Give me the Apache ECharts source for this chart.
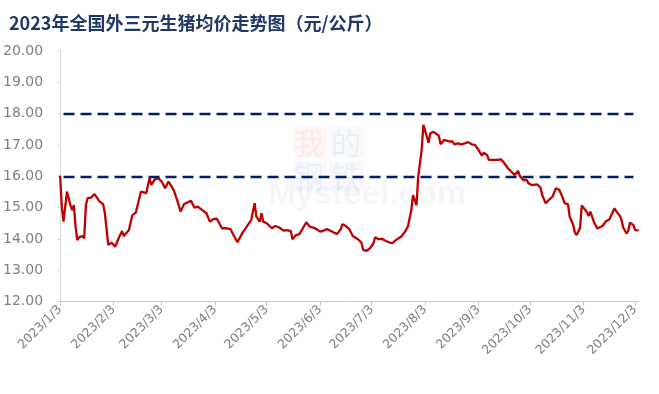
<!DOCTYPE html>
<html>
<head>
<meta charset="utf-8">
<script src="https://cdn.jsdelivr.net/npm/echarts@6/dist/echarts.min.js"></script>
<style>
html,body{margin:0;padding:0;background:#fff;}
#chart{width:659px;height:394px;}
</style>
</head>
<body>
<div id="chart"></div>
<script>
// ---- data ----
const titleText = '2023年全国外三元生猪均价走势图（元/公斤）';
const axisStart = '2023/1/3';
const axisEnd = '2023/12/5';
const refLevels = [18, 16];
const refStart = '2023/1/5';
const refEnd = '2023/12/2';
const yTicks = [12, 13, 14, 15, 16, 17, 18, 19, 20];

const priceDates = [
 '2023/1/3','2023/1/4','2023/1/5','2023/1/7','2023/1/9','2023/1/10','2023/1/11','2023/1/12','2023/1/13','2023/1/14',
 '2023/1/15','2023/1/16','2023/1/17','2023/1/18','2023/1/19','2023/1/21','2023/1/23','2023/1/24','2023/1/26','2023/1/28',
 '2023/1/29','2023/1/31','2023/2/1','2023/2/2','2023/2/4','2023/2/6','2023/2/8','2023/2/9','2023/2/10','2023/2/12',
 '2023/2/14','2023/2/16','2023/2/17','2023/2/19','2023/2/20','2023/2/22','2023/2/24','2023/2/25','2023/2/27','2023/3/1',
 '2023/3/3','2023/3/5','2023/3/7','2023/3/10','2023/3/12','2023/3/14','2023/3/16','2023/3/18','2023/3/20','2023/3/22',
 '2023/3/24','2023/3/27','2023/3/29','2023/3/31','2023/4/2','2023/4/4','2023/4/7','2023/4/9','2023/4/12','2023/4/14',
 '2023/4/16','2023/4/17','2023/4/19','2023/4/22','2023/4/24','2023/4/26','2023/4/27','2023/4/29','2023/4/30','2023/5/1',
 '2023/5/3','2023/5/4','2023/5/6','2023/5/8','2023/5/10','2023/5/11','2023/5/13','2023/5/15','2023/5/17','2023/5/18',
 '2023/5/20','2023/5/22','2023/5/24','2023/5/26','2023/5/28','2023/5/30','2023/6/1','2023/6/3','2023/6/5','2023/6/7',
 '2023/6/9','2023/6/11','2023/6/13','2023/6/15','2023/6/16','2023/6/18','2023/6/20','2023/6/22','2023/6/25','2023/6/27',
 '2023/6/28','2023/6/30','2023/7/2','2023/7/4','2023/7/5','2023/7/7','2023/7/9','2023/7/11','2023/7/13','2023/7/15',
 '2023/7/17','2023/7/18','2023/7/20','2023/7/22','2023/7/24','2023/7/26','2023/7/27','2023/7/29','2023/7/30','2023/7/31',
 '2023/8/1','2023/8/2','2023/8/4','2023/8/5','2023/8/6','2023/8/8','2023/8/9','2023/8/11','2023/8/12','2023/8/14',
 '2023/8/15','2023/8/17','2023/8/19','2023/8/20','2023/8/22','2023/8/24','2023/8/26','2023/8/28','2023/8/30','2023/9/1',
 '2023/9/3','2023/9/5','2023/9/6','2023/9/8','2023/9/9','2023/9/12','2023/9/14','2023/9/16','2023/9/18','2023/9/20',
 '2023/9/22','2023/9/24','2023/9/26','2023/9/27','2023/9/29','2023/10/1','2023/10/2','2023/10/4','2023/10/7','2023/10/9',
 '2023/10/10','2023/10/12','2023/10/14','2023/10/16','2023/10/18','2023/10/20','2023/10/22','2023/10/23','2023/10/25','2023/10/26',
 '2023/10/28','2023/10/29','2023/10/30','2023/11/1','2023/11/2','2023/11/3','2023/11/5','2023/11/6','2023/11/7','2023/11/8',
 '2023/11/9','2023/11/11','2023/11/12','2023/11/14','2023/11/16','2023/11/18','2023/11/19','2023/11/21','2023/11/22','2023/11/24',
 '2023/11/25','2023/11/26','2023/11/28','2023/11/29','2023/11/30','2023/12/2','2023/12/3','2023/12/5'
];
const priceValues = [
 16.02,15.03,14.55,15.51,15.08,14.92,15.08,14.39,13.96,14.05,
 13.99,14.09,14.02,15.08,15.30,15.32,15.43,15.35,15.19,15.11,
 14.82,13.81,13.84,13.88,13.75,14.02,14.25,14.09,14.05,14.28,
 14.76,14.84,14.82,15.51,15.56,15.46,15.94,15.72,15.90,15.94,
 15.83,15.62,15.83,15.56,15.24,14.87,15.11,15.16,15.22,15.00,
 15.03,14.90,14.82,14.55,14.63,14.65,14.34,14.34,14.31,14.09,
 13.89,13.88,14.20,14.44,14.60,15.14,14.71,14.55,14.82,14.55,
 14.50,14.55,14.34,14.41,14.37,14.39,14.26,14.28,14.25,13.99,
 14.12,14.15,14.34,14.53,14.39,14.36,14.31,14.23,14.26,14.31,
 14.26,14.20,14.16,14.31,14.47,14.41,14.31,14.09,13.99,13.88,
 13.65,13.62,13.70,13.86,14.05,13.99,14.00,13.94,13.89,13.86,
 13.96,13.99,14.07,14.20,14.39,14.92,15.40,15.08,15.99,16.42,
 16.84,17.64,17.27,17.07,17.37,17.42,17.39,17.29,17.02,17.16,
 17.18,17.11,17.11,17.02,17.05,17.02,17.05,17.09,17.02,17.00,
 16.84,16.66,16.75,16.68,16.52,16.52,16.52,16.54,16.42,16.26,
 16.15,16.04,16.17,16.01,15.88,15.88,15.78,15.72,15.74,15.64,
 15.40,15.14,15.25,15.35,15.62,15.56,15.30,15.14,15.10,14.70,
 14.45,14.20,14.12,14.35,15.07,15.08,14.85,14.73,14.87,14.90,
 14.55,14.33,14.34,14.41,14.56,14.62,14.74,14.98,14.88,14.75,
 14.62,14.37,14.17,14.26,14.52,14.44,14.28,14.27
];

// ---- daily category axis ----
function fmt(d){ return d.getFullYear() + '/' + (d.getMonth()+1) + '/' + d.getDate(); }
const categories = [];
(function(){
  const p1 = axisStart.split('/').map(Number), p2 = axisEnd.split('/').map(Number);
  const d = new Date(p1[0], p1[1]-1, p1[2]);
  const end = new Date(p2[0], p2[1]-1, p2[2]);
  while (d <= end) { categories.push(fmt(d)); d.setDate(d.getDate()+1); }
})();
const isMonthTick = (idx, val) => /\/3$/.test(val) && !/\/(1|2)3$/.test(val);

const chart = echarts.init(document.getElementById('chart'), null, {renderer: 'canvas'});
chart.setOption({
  animation: false,
  backgroundColor: '#ffffff',
  title: {
    text: titleText,
    left: 4, top: 9,
    textStyle: {fontSize: 18, fontWeight: 'bold', color: '#1f3864', fontFamily: 'Noto Sans CJK SC'}
  },
  graphic: [
    {type: 'rect', left: 293, top: 127, shape: {width: 34, height: 31}, style: {fill: 'rgba(220,60,60,0.04)'}, z: 0},
    {type: 'rect', left: 330, top: 127, shape: {width: 34, height: 31}, style: {fill: 'rgba(60,90,170,0.04)'}, z: 0},
    {type: 'rect', left: 293, top: 161, shape: {width: 34, height: 31}, style: {fill: 'rgba(60,90,170,0.04)'}, z: 0},
    {type: 'rect', left: 330, top: 161, shape: {width: 34, height: 31}, style: {fill: 'rgba(60,90,170,0.04)'}, z: 0},
    {type: 'text', left: 294, top: 128, style: {text: '我', fontSize: 30, fontFamily: 'Noto Sans CJK SC', fill: 'rgba(220,60,60,0.07)'}, z: 0},
    {type: 'text', left: 331, top: 128, style: {text: '的', fontSize: 30, fontFamily: 'Noto Sans CJK SC', fill: 'rgba(60,90,170,0.07)'}, z: 0},
    {type: 'text', left: 294, top: 162, style: {text: '钢', fontSize: 30, fontFamily: 'Noto Sans CJK SC', fill: 'rgba(60,90,170,0.06)'}, z: 0},
    {type: 'text', left: 331, top: 162, style: {text: '铁', fontSize: 30, fontFamily: 'Noto Sans CJK SC', fill: 'rgba(60,90,170,0.06)'}, z: 0},
    {type: 'text', left: 268, top: 178, style: {text: 'Mysteel.com', fontSize: 33, fontWeight: 'bold', fontFamily: 'Liberation Sans', fill: 'rgba(0,0,0,0.035)'}, z: 0}
  ],
  grid: {left: 60, right: 20.4, top: 51, bottom: 92.5, containLabel: false},
  xAxis: {
    type: 'category',
    data: categories,
    boundaryGap: false,
    axisLine: {lineStyle: {color: '#c9c9c9', width: 1}},
    axisTick: {show: true, interval: isMonthTick, length: 4, lineStyle: {color: '#c9c9c9'}},
    axisLabel: {interval: isMonthTick, rotate: 45, margin: 6, color: '#7f7f7f', fontSize: 12.5, fontFamily: 'DejaVu Sans'},
    splitLine: {show: false}
  },
  yAxis: {
    type: 'value',
    min: yTicks[0], max: yTicks[yTicks.length-1], interval: 1,
    axisLine: {show: true, lineStyle: {color: '#d9d9d9'}},
    axisTick: {show: true, length: 3, lineStyle: {color: '#d9d9d9'}},
    axisLabel: {formatter: v => v.toFixed(2), color: '#7f7f7f', fontSize: 14, margin: 17, fontFamily: 'DejaVu Sans'},
    splitLine: {show: false}
  },
  series: [{
    type: 'line',
    data: priceDates.map((d, i) => [d, priceValues[i]]),
    showSymbol: false,
    symbol: 'none',
    lineStyle: {color: '#c00000', width: 2.3},
    z: 3,
    markLine: {
      silent: true,
      symbol: ['none', 'none'],
      label: {show: false},
      lineStyle: {color: '#002060', width: 2.3, type: [11, 6]},
      emphasis: {disabled: true},
      data: refLevels.map(v => [{coord: [refStart, v]}, {coord: [refEnd, v]}])
    }
  }]
});
</script>
</body>
</html>
